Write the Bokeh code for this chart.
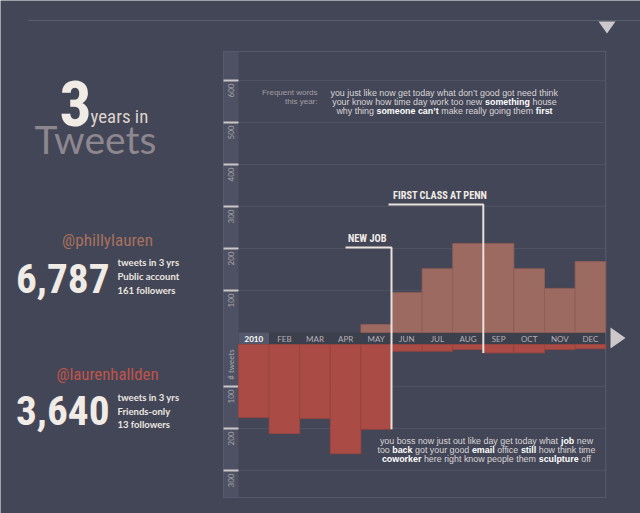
import math
import glob
import os
from bokeh.plotting import figure
from bokeh.models import Range1d
from bokeh.core.properties import value
from bokeh.embed import file_html
from bokeh.resources import INLINE

# ---------------- data ----------------
MONTHS = ["2010", "FEB", "MAR", "APR", "MAY", "JUN", "JUL", "AUG", "SEP", "OCT", "NOV", "DEC"]
PHILLY = [0, 0, 0, 0, 19, 95, 152, 212, 212, 152, 105, 169]        # @phillylauren tweets / month
HALLDEN = [174, 212, 176, 260, 202, 16, 16, 12, 20, 20, 12, 10]    # @laurenhallden tweets / month
UP_TICKS = [100, 200, 300, 400, 500, 600]
LO_TICKS = [100, 200, 300]
EVENTS = ["NEW JOB", "FIRST CLASS AT PENN"]
EVENT_MONTH = [5, 8]      # month boundary where the event happened

TOP_WORDS = [
    [("you just like now get today what don\u2019t good got need think", 0)],
    [("your know how time day work too new", 0), ("something", 1), ("house", 0)],
    [("why thing", 0), ("someone can\u2019t", 1), ("make really going them", 0), ("first", 1)],
]
BOTTOM_WORDS = [
    [("you boss now just out like day get today what", 0), ("job", 1), ("new", 0)],
    [("too", 0), ("back", 1), ("got your good", 0), ("email", 1), ("office", 0), ("still", 1), ("how think time", 0)],
    [("coworker", 1), ("here right know people them", 0), ("sculpture", 1), ("off", 0)],
]

# ---------------- pick a condensed font that is installed ----------------
files = []
for d in ["/usr/share/fonts", "/usr/local/share/fonts", os.path.expanduser("~/.fonts"),
          os.path.expanduser("~/.local/share/fonts")]:
    files += glob.glob(os.path.join(d, "**", "*.*tf"), recursive=True)
names = " ".join(os.path.basename(f).lower().replace("-", "").replace("_", "") for f in files)
COND, CS = "Roboto", 0.72
for key, fam, sc in [("notosansextracondensedbold", "Noto Sans ExtraCondensed", 1.0),
                     ("robotocondensed", "Roboto Condensed", 0.86),
                     ("liberationsansnarrow", "Liberation Sans Narrow", 0.8),
                     ("notosanscondensedbold", "Noto Sans Condensed", 0.82),
                     ("dejavusanscondensed", "DejaVu Sans Condensed", 0.7)]:
    if key in names:
        COND, CS = fam, sc
        break


def fs(n):
    return f"{n * CS:.1f}px"


# ---------------- geometry helpers (page pixels -> data) ----------------
W, H = 640, 513
PXM = 30.6           # pixels per month
PXV = 0.42           # pixels per tweet
X0 = 238             # page x of month 0
Y0 = 332             # page y of upper zero
GAP = 12 / PXV       # month band height in data units


def X(px):
    return (px - X0) / PXM


def Y(py):
    return (Y0 - py) / PXV


BG = "#434656"
PANEL_LINE = "#56596b"
GRID = "#4f5263"
STRIP = "#4e5163"
BAND = "#3c3f4c"
CELL = "#55586a"
UP_BAR = "#9d6a61"
LO_BAR = "#aa4c45"
ANNOT = "#e9e1dc"
TICK = "#cbc7c9"
LABEL = "#a9a5ab"
WHITE = "#f1ebe6"

p = figure(width=W, height=H, output_backend="svg", toolbar_location=None,
           x_range=Range1d(X(0), X(W)), y_range=Range1d(Y(H), Y(0)),
           x_axis_location=None, y_axis_location=None, min_border=0,
           background_fill_color=BG, border_fill_color=BG, outline_line_color=None)
p.grid.visible = False

# top rule and triangles
p.segment(x0=[X(28)], x1=[X(640)], y0=[Y(20)], y1=[Y(20)], line_color="#5b5e6e", line_width=1)
p.patch([X(598), X(615), X(606.5)], [Y(21), Y(21), Y(33)], fill_color="#cdc9ca", line_color=None)
p.patch([X(610), X(610), X(625)], [Y(327), Y(348), Y(337.5)], fill_color="#cdc9ca", line_color=None)

# panel, strip, band
p.quad(left=[X(223)], right=[0], top=[Y(51)], bottom=[Y(497)], fill_color=STRIP, line_color=None)
p.quad(left=[0], right=[12], top=[0], bottom=[-GAP], fill_color=BAND, line_color=None)
p.quad(left=[0], right=[1], top=[0], bottom=[-GAP], fill_color=CELL, line_color=None)

up_y = UP_TICKS
lo_y = [-GAP - t for t in LO_TICKS]
p.segment(x0=0, x1=12, y0=up_y + lo_y, y1=up_y + lo_y, line_color=GRID, line_width=1)
p.quad(left=[X(223)], right=[12], top=[Y(51)], bottom=[Y(497)], fill_color=None,
       line_color=PANEL_LINE, line_width=1.2)

# axis ticks in the strip
p.segment(x0=X(223), x1=0, y0=up_y + lo_y, y1=up_y + lo_y, line_color=TICK, line_width=2)
off = 10 / PXV
p.text(x=[X(230.5)] * (len(UP_TICKS) + len(LO_TICKS)),
       y=[t - off for t in up_y] + [t - off for t in lo_y],
       text=[str(t) for t in UP_TICKS + LO_TICKS], angle=math.pi / 2,
       text_align="center", text_baseline="middle", text_color=LABEL,
       text_font=value("Lato"), text_font_size="8px")
p.text(x=[X(230.5)], y=[Y(364)], text=["# tweets"], angle=math.pi / 2,
       text_align="center", text_baseline="middle", text_color=LABEL,
       text_font=value("Lato"), text_font_size="8px")

# bars
ui = [i for i, v in enumerate(PHILLY) if v > 0]
p.quad(left=[i for i in ui], right=[i + 1 for i in ui], bottom=0,
       top=[PHILLY[i] for i in ui], fill_color=UP_BAR, line_color="#8e5e56", line_width=0.8)
p.quad(left=list(range(12)), right=[i + 1 for i in range(12)], top=-GAP,
       bottom=[-GAP - v for v in HALLDEN], fill_color=LO_BAR, line_color="#9b443e", line_width=0.8)

# month labels
p.text(x=[i + 0.5 for i in range(1, 12)], y=-GAP / 2, text=MONTHS[1:], text_align="center",
       text_baseline="middle", text_color="#b6b2b7", text_font=value("Lato"),
       text_font_size="8px")
p.text(x=[0.5], y=[-GAP / 2], text=MONTHS[:1], text_align="center", text_baseline="middle",
       text_color="#ffffff", text_font=value("Lato"), text_font_size="8px",
       text_font_style="bold")

# event annotations
ev_y = [Y(247), Y(204)]
ev_x0 = [X(345), X(388)]
xs, ys = [], []
for k, m in enumerate(EVENT_MONTH):
    xs.append([ev_x0[k], m, m])
    ys.append([ev_y[k], ev_y[k], -GAP - HALLDEN[m if m == 8 else m - 1]])
p.multi_line(xs=xs, ys=ys, line_color=ANNOT, line_width=2)
p.text(x=[X(347.5), X(392.5)], y=[Y(237.5), Y(194.5)], text=EVENTS, text_align="left",
       text_baseline="middle", text_color=WHITE,
       text_font=value(COND), text_font_size=fs(12), text_font_style="bold")

# word clouds (Liberation Sans = Arial metrics)
REG = dict(zip("abcdefghijklmnopqrstuvwxyz", [556, 556, 500, 556, 556, 278, 556, 556, 222, 222, 500, 222, 833,
                                              556, 556, 556, 556, 333, 500, 278, 556, 500, 722, 500, 500, 500]))
BLD = dict(zip("abcdefghijklmnopqrstuvwxyz", [556, 611, 556, 611, 556, 333, 611, 611, 278, 278, 556, 278, 889,
                                              611, 611, 611, 611, 389, 556, 333, 611, 556, 778, 556, 556, 500]))
REG.update({" ": 278, "\u2019": 222})
BLD.update({" ": 278, "\u2019": 278})
FS = 8.9


def width(s, b):
    t = BLD if b else REG
    return sum(t.get(c, 556) for c in s) / 1000 * FS


def layout(lines, cx, ys):
    out = {0: ([], [], []), 1: ([], [], [])}
    for runs, yy in zip(lines, ys):
        tot = sum(width(s, b) for s, b in runs) + width(" ", 0) * (len(runs) - 1)
        x = cx - tot / 2
        for s, b in runs:
            out[b][0].append(X(x))
            out[b][1].append(Y(yy))
            out[b][2].append(s)
            x += width(s, b) + width(" ", 0)
    for b, (xx, yy, tt) in out.items():
        p.text(x=xx, y=yy, text=tt, text_align="left", text_baseline="middle",
               text_color="#ffffff" if b else "#d9d5d7", text_font=value("Liberation Sans"),
               text_font_size=f"{FS}px", text_font_style="bold" if b else "normal")


layout(TOP_WORDS, 444, [92, 101, 110])
layout(BOTTOM_WORDS, 486, [440, 449, 458])
p.text(x=[X(317)] * 2, y=[Y(92), Y(101)], text=["Frequent words", "this year:"], text_align="right",
       text_baseline="middle", text_color="#a29ea5", text_font=value("Liberation Sans"),
       text_font_size="8px")

# title block
p.text(x=[X(59)], y=[Y(103)], text=["3"], text_align="left", text_baseline="middle",
       text_color=WHITE, text_font=value(COND), text_font_size=fs(74), text_font_style="bold")
p.text(x=[X(90)], y=[Y(116)], text=["years in"], text_align="left", text_baseline="middle",
       text_color="#dcd3cd", text_font=value(COND), text_font_size=fs(22))
p.text(x=[X(34)], y=[Y(138.5)], text=["Tweets"], text_align="left", text_baseline="middle",
       text_color="#8d8790", text_font=value("Lato"), text_font_size="39px")

# account blocks
ACCOUNTS = ["@phillylauren", "@laurenhallden"]
TOTALS = ["6,787", "3,640"]
DETAILS = [["tweets in 3 yrs", "Public account", "161 followers"],
           ["tweets in 3 yrs", "Friends-only", "13 followers"]]
ACC_COLORS = ["#a8715f", "#c0544a"]
acc_y = [239.5, 373.5]
acc_fs = [20, 19.5]
tot_y = [278, 410]
det_y = [[262, 276, 290], [397, 411, 424]]
for k in range(2):
    p.text(x=[X(107)], y=[Y(acc_y[k])], text=[ACCOUNTS[k]], text_align="center",
           text_baseline="middle", text_color=ACC_COLORS[k],
           text_font=value(COND), text_font_size=fs(acc_fs[k]))
    p.text(x=[X(109)], y=[Y(tot_y[k])], text=[TOTALS[k]], text_align="right",
           text_baseline="middle", text_color=WHITE,
           text_font=value(COND), text_font_size=fs(48), text_font_style="bold")
    p.text(x=[X(117)] * 3, y=[Y(v) for v in det_y[k]], text=DETAILS[k], text_align="left",
           text_baseline="middle", text_color="#ece6e1", text_font=value("Lato"),
           text_font_size="9.5px", text_font_style="bold")

open("out.html", "w").write(file_html(p, INLINE))
